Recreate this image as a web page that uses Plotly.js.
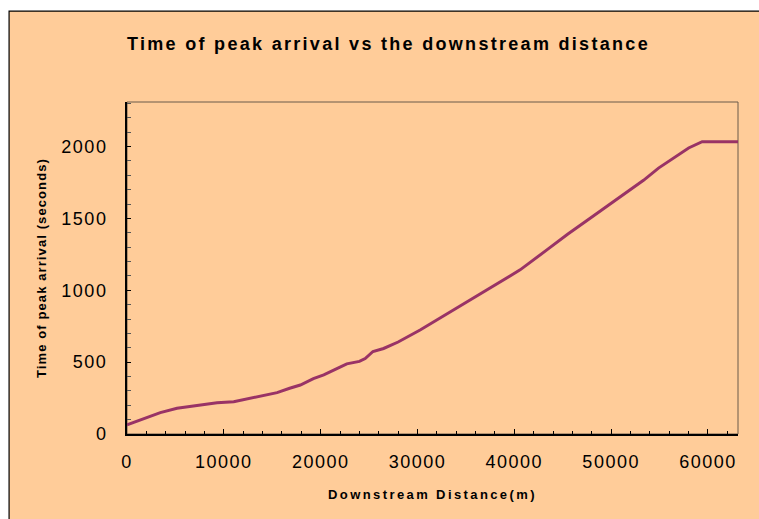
<!DOCTYPE html>
<html>
<head>
<meta charset="utf-8">
<script src="https://cdn.plot.ly/plotly-3.0.1.min.js"></script>
<style>
html,body{margin:0;padding:0;background:#fff;}
#chart{width:759px;height:519px;}
#chart .gtitle{letter-spacing:2.3px;}
#chart .xtitle{letter-spacing:2.4px;}
#chart .ytitle{letter-spacing:1.1px;}
#chart .xtick text, #chart .ytick text{letter-spacing:1.5px;}
</style>
</head>
<body>
<div id="chart"></div>
<script>
const distance = [0, 1000, 2066, 3440, 5165, 6890, 9300, 11020, 13770, 15500, 16800, 17900, 19250, 20320, 22000, 22700, 24000, 24600, 25400, 26500, 28000, 30270, 33710, 35800, 37160, 40600, 43360, 45500, 47830, 49600, 51270, 53340, 54890, 56800, 58000, 59400, 63100];
const peakTime = [63, 88, 114, 149, 179, 195, 218, 225, 264, 288, 318, 341, 385, 411, 465, 488, 505, 525, 574, 595, 640, 724, 863, 946, 1002, 1142, 1281, 1390, 1501, 1585, 1664, 1765, 1850, 1934, 1990, 2034, 2034];

const titleText = "Time of peak arrival vs the downstream distance";
const xTitle = "Downstream Distance(m)";
const yTitle = "Time of peak arrival (seconds)";
const xTicks = [0, 10000, 20000, 30000, 40000, 50000, 60000];
const yTicks = [0, 500, 1000, 1500, 2000];

const font = "Liberation Sans, Arial, sans-serif";

const trace = {
  x: distance, y: peakTime, type: 'scatter', mode: 'lines',
  line: {color: '#993366', width: 3},
  hoverinfo: 'skip'
};

const layout = {
  width: 759, height: 519,
  margin: {l: 127, r: 21, t: 102, b: 85},
  paper_bgcolor: '#ffffff',
  plot_bgcolor: 'rgba(0,0,0,0)',
  showlegend: false,
  font: {family: font, color: '#000'},
  title: {text: '<b>' + titleText + '</b>', font: {family: font, size: 18, color: '#000'},
          x: 388.5 / 759, xref: 'container', xanchor: 'center', y: 0.915, yanchor: 'middle'},
  xaxis: {
    range: [0, 63100], tickvals: xTicks, ticktext: xTicks.map(String),
    ticks: 'inside', ticklen: 5, tickwidth: 1, tickcolor: '#000',
    minor: {dtick: 2000, tick0: 0, ticks: 'inside', ticklen: 3, tickcolor: '#000', showgrid: false},
    showline: true, linecolor: '#000', linewidth: 2, showgrid: false, zeroline: false,
    tickfont: {size: 18, family: font}, ticklabelstandoff: 10,
    title: {text: '<b>' + xTitle + '</b>', font: {size: 13, family: font}, standoff: 19}
  },
  yaxis: {
    range: [0, 2310], tickvals: yTicks, ticktext: yTicks.map(String),
    ticks: 'inside', ticklen: 4, tickwidth: 1, tickcolor: '#000',
    minor: {dtick: 100, tick0: 0, ticks: 'inside', ticklen: 4, tickcolor: '#555', showgrid: false},
    showline: true, linecolor: '#000', linewidth: 2, showgrid: false, zeroline: false,
    tickfont: {size: 18, family: font}, ticklabelstandoff: 14,
    title: {text: '<b>' + yTitle + '</b>', font: {size: 13, family: font}, standoff: 18}
  },
  shapes: [
    {type: 'rect', xref: 'paper', yref: 'paper', x0: -0.193, x1: 1.2, y0: -0.6, y1: 1.274,
     fillcolor: '#FFCC99', line: {color: '#000', width: 1.2}, layer: 'below'},
    {type: 'rect', xref: 'paper', yref: 'paper', x0: 0, x1: 1, y0: 0, y1: 1,
     fillcolor: 'rgba(0,0,0,0)', line: {color: '#6b5a4a', width: 1}, layer: 'below'}
  ]
};

Plotly.newPlot('chart', [trace], layout, {staticPlot: true, displayModeBar: false});
</script>
</body>
</html>
